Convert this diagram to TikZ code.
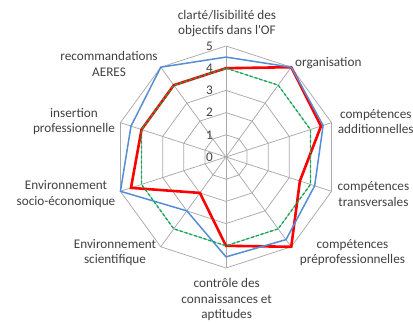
\documentclass[tikz,border=0pt]{standalone}
\usepackage{fontspec}
\setmainfont{Carlito}
\usepackage{tikz}
\definecolor{gridgray}{RGB}{170,170,170}
\definecolor{serieblue}{RGB}{85,142,213}
\definecolor{seriered}{RGB}{255,0,0}
\definecolor{seriegreen}{RGB}{0,176,80}
\definecolor{labeltext}{RGB}{64,64,64}

\begin{document}
\begin{tikzpicture}[x=22.2pt, y=22.2pt,
        axislabel/.style={font=\fontsize{13.2}{15.5}\selectfont, text=labeltext, align=center, inner sep=0pt},
        ticklabel/.style={font=\fontsize{13.2}{15.5}\selectfont, text=labeltext, anchor=east, inner sep=0pt}]
        \useasboundingbox (-226pt,-166pt) rectangle (187pt,157pt);

        % Draw the spokes
        \foreach \k in {0,...,9} {
            \draw[gridgray, line width=0.75pt] (0,0) -- ({90-36*\k}:5);
        }

        % Draw the decagons for the levels 1 to 5
        \foreach \r in {1,...,5} {
            \draw[gridgray, line width=0.75pt] (90:\r) \foreach \k in {1,...,9} { -- ({90-36*\k}:\r) } -- cycle;
        }

        % Draw the scale along the upper spoke
        \foreach \r in {0,...,5} {
            \node[ticklabel] (tick\r) at (-13pt, {\r*22.2pt}) {\r};
        }

        % Draw the three series
        \draw[seriered, line width=2.6pt] (90:4) -- (54:5) -- (18:4.5) -- (-18:3.5) -- (-54:5) -- (-90:4) -- (-126:2) -- (-162:4.5) -- (162:4) -- (126:4) -- cycle;
        \draw[serieblue, line width=1.5pt] (90:4.5) -- (54:5) -- (18:4.6) -- (-18:4.2) -- (-54:4.6) -- (-90:4.5) -- (-126:3) -- (-162:5) -- (162:4.5) -- (126:5) -- cycle;
        \draw[seriegreen, line width=1.3pt, dash pattern=on 3pt off 2pt] (90:4) \foreach \k in {1,...,9} { -- ({90-36*\k}:4) } -- cycle;

        % Axis labels
        \node[axislabel] (clarte) at (1pt,133.5pt) {clarté/lisibilité des\\objectifs dans l\textquotesingle OF};
        \node[axislabel, anchor=west] (organisation) at (69pt,94pt) {organisation};
        \node[axislabel, anchor=west] (additionnelles) at (111.7pt,35.3pt) {compétences\\additionnelles};
        \node[axislabel, anchor=west] (transversales) at (111.5pt,-37.2pt) {compétences\\transversales};
        \node[axislabel] (preprof) at (126.5pt,-95.8pt) {compétences\\préprofessionnelles};
        \node[axislabel] (controle) at (0.7pt,-142.7pt) {contrôle des\\connaissances et\\aptitudes};
        \node[axislabel] (envscient) at (-111pt,-95.5pt) {Environnement\\scientifique};
        \node[axislabel] (envsocio) at (-160pt,-36.8pt) {Environnement\\socio-économique};
        \node[axislabel] (insertion) at (-152pt,35.7pt) {insertion\\professionnelle};
        \node[axislabel] (aeres) at (-117pt,93.2pt) {recommandations\\AERES};
    \end{tikzpicture}
\end{document}
